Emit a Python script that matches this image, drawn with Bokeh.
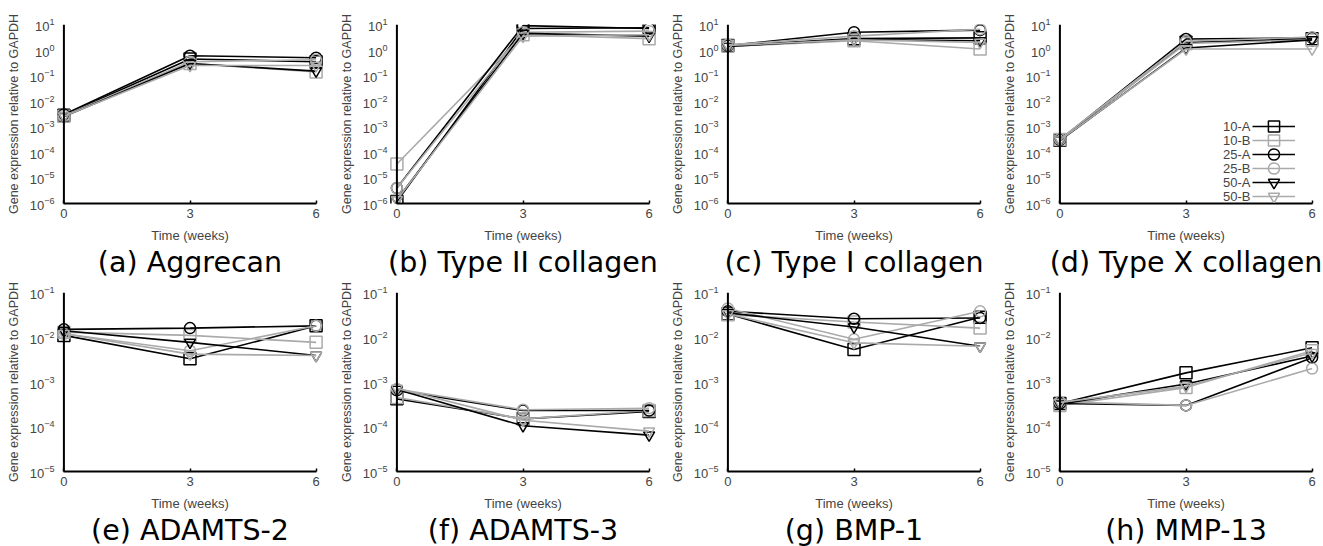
from bokeh.plotting import figure
from bokeh.layouts import row, column
from bokeh.models import Span, Legend, LegendItem, FixedTicker, Range1d
from bokeh.embed import file_html
from bokeh.resources import INLINE

weeks = [0, 3, 6]
groups = ["10-A", "10-B", "25-A", "25-B", "50-A", "50-B"]

aggrecan = {
    "10-A": [2.8e-3, 0.45, 0.35],
    "10-B": [2.6e-3, 0.30, 0.14],
    "25-A": [3.0e-3, 0.60, 0.50],
    "25-B": [2.7e-3, 0.35, 0.42],
    "50-A": [2.5e-3, 0.30, 0.15],
    "50-B": [2.6e-3, 0.25, 0.25],
}
col2 = {
    "10-A": [1.2e-6, 7.0, 7.5],
    "10-B": [3.5e-5, 4.0, 2.8],
    "25-A": [4.0e-6, 9.0, 7.0],
    "25-B": [4.0e-6, 5.0, 5.5],
    "50-A": [1.4e-6, 4.5, 3.5],
    "50-B": [1.4e-6, 3.5, 4.0],
}
col1 = {
    "10-A": [1.5, 2.8, 3.0],
    "10-B": [1.4, 2.3, 1.1],
    "25-A": [1.5, 5.0, 6.0],
    "25-B": [1.6, 3.5, 6.5],
    "50-A": [1.4, 2.6, 2.3],
    "50-B": [1.5, 2.5, 2.0],
}
col10 = {
    "10-A": [3.0e-4, 2.0, 2.8],
    "10-B": [3.2e-4, 1.8, 2.5],
    "25-A": [3.1e-4, 2.7, 3.0],
    "25-B": [3.3e-4, 2.2, 3.2],
    "50-A": [2.9e-4, 1.2, 2.5],
    "50-B": [3.0e-4, 1.1, 1.1],
}
adamts2 = {
    "10-A": [1.1e-2, 3.3e-3, 1.8e-2],
    "10-B": [1.3e-2, 1.1e-2, 7.7e-3],
    "25-A": [1.5e-2, 1.6e-2, 1.8e-2],
    "25-B": [1.2e-2, 5.0e-3, 1.8e-2],
    "50-A": [1.4e-2, 7.7e-3, 3.9e-3],
    "50-B": [1.2e-2, 4.2e-3, 3.9e-3],
}
adamts3 = {
    "10-A": [4.2e-4, 1.5e-4, 2.2e-4],
    "10-B": [4.5e-4, 1.5e-4, 2.3e-4],
    "25-A": [6.5e-4, 2.3e-4, 2.3e-4],
    "25-B": [7.0e-4, 2.4e-4, 2.6e-4],
    "50-A": [6.8e-4, 1.05e-4, 6.5e-5],
    "50-B": [7.2e-4, 1.4e-4, 8.0e-5],
}
bmp1 = {
    "10-A": [3.3e-2, 5.3e-3, 2.8e-2],
    "10-B": [3.2e-2, 2.2e-2, 1.6e-2],
    "25-A": [3.8e-2, 2.6e-2, 2.7e-2],
    "25-B": [4.4e-2, 9.0e-3, 3.8e-2],
    "50-A": [3.5e-2, 1.7e-2, 6.3e-3],
    "50-B": [3.3e-2, 7.5e-3, 6.3e-3],
}
mmp13 = {
    "10-A": [3.3e-4, 1.6e-3, 5.8e-3],
    "10-B": [3.0e-4, 7.5e-4, 5.0e-3],
    "25-A": [3.3e-4, 3.0e-4, 3.5e-3],
    "25-B": [3.6e-4, 3.0e-4, 2.0e-3],
    "50-A": [3.2e-4, 9.0e-4, 3.8e-3],
    "50-B": [3.5e-4, 8.0e-4, 4.5e-3],
}

titles_top = ["(a) Aggrecan", "(b) Type II collagen", "(c) Type I collagen", "(d) Type X collagen"]
titles_bottom = ["(e) ADAMTS-2", "(f) ADAMTS-3", "(g) BMP-1", "(h) MMP-13"]
data_top = [aggrecan, col2, col1, col10]
data_bottom = [adamts2, adamts3, bmp1, mmp13]
range_top = (1e-6, 1e1)
range_bottom = (1e-5, 1e-1)

COLORS = {"A": "#000000", "B": "#aaaaaa"}
MARKERS = {"10": ("square", 12), "25": ("circle", 11), "50": ("inverted_triangle", 11)}

WIDTHS = [333, 331, 332, 327]
LEFT = 55
FRAME_W = 269
FRAME_H = 179
PAD = 0.2
FONT = "Liberation Sans"


def legend_box(items, x, y, glyph_w, standoff):
    return Legend(items=items, location=(x, y), orientation="vertical",
                  glyph_width=glyph_w, glyph_height=28, label_height=28, spacing=0,
                  padding=0, margin=0, background_fill_alpha=0, border_line_color=None,
                  label_text_font=FONT, label_text_font_size="13px",
                  label_standoff=standoff)


def make_panel(title, data, yr, width, top, bottom, legend=False):
    p = figure(width=width, height=top + FRAME_H + bottom,
               x_range=Range1d(-PAD, 6 + PAD), y_range=Range1d(*yr),
               y_axis_type="log", output_backend="svg", toolbar_location=None,
               title=title, title_location="below",
               min_border_left=LEFT, min_border_right=width - LEFT - FRAME_W,
               min_border_top=top, min_border_bottom=bottom)
    p.outline_line_color = None
    p.grid.visible = False
    p.background_fill_color = "white"
    p.border_fill_color = "white"

    t = p.title
    t.text_font = "DejaVu Sans"
    t.text_font_size = "28.5px"
    t.text_font_style = "normal"
    t.text_color = "black"
    t.align = "center"
    t.standoff = -4

    xa = p.xaxis[0]
    xa.ticker = FixedTicker(ticks=weeks)
    xa.bounds = (0, 6)
    xa.axis_line_width = 2
    xa.axis_line_color = "black"
    xa.major_tick_in = 3
    xa.major_tick_out = 0
    xa.major_tick_line_width = 1.5
    xa.minor_tick_line_color = None
    xa.major_label_text_font = FONT
    xa.major_label_text_font_size = "13px"
    xa.major_label_standoff = 5
    xa.axis_label = "Time (weeks)"
    xa.axis_label_text_font = FONT
    xa.axis_label_text_font_size = "13px"
    xa.axis_label_text_font_style = "normal"
    xa.axis_label_standoff = 7

    ya = p.yaxis[0]
    ya.ticker.desired_num_ticks = 10
    ya.ticker.num_minor_ticks = 0
    ya.axis_line_color = None
    ya.major_tick_in = 0
    ya.major_tick_out = 0
    ya.minor_tick_line_color = None
    ya.major_label_text_font = FONT
    ya.major_label_text_font_size = "13px"
    ya.major_label_standoff = 1
    ya.axis_label = "Gene expression relative to GAPDH"
    ya.axis_label_text_font = FONT
    ya.axis_label_text_font_size = "12.5px"
    ya.axis_label_text_font_style = "normal"
    ya.axis_label_standoff = 6

    p.add_layout(Span(location=0, dimension="height", line_color="black", line_width=2))

    rends = {}
    for g in groups:
        conc, kind = g.split("-")
        color = COLORS[kind]
        marker, size = MARKERS[conc]
        lr = p.line(weeks, data[g], line_color=color, line_width=1.6)
        sr = p.scatter(weeks, data[g], marker=marker, size=size, line_color=color,
                       line_width=1.5, fill_color=None)
        rends[g] = [lr, sr]

    if legend:
        a_groups = [g for g in groups if g.endswith("A")]
        b_groups = [g for g in groups if g.endswith("B")]
        # text column (labels only, to the left of the symbols)
        p.add_layout(legend_box([LegendItem(label=g, renderers=rends[g]) for g in a_groups],
                                172, 7, 0, 0))
        p.add_layout(legend_box([LegendItem(label=g, renderers=rends[g]) for g in b_groups],
                                172, -7, 0, 0))
        # symbol column
        p.add_layout(legend_box([LegendItem(label=" ", renderers=rends[g]) for g in a_groups],
                                201, 7, 43, 0))
        p.add_layout(legend_box([LegendItem(label=" ", renderers=rends[g]) for g in b_groups],
                                201, -7, 43, 0))
    return p


top_row = [make_panel(titles_top[i], data_top[i], range_top, WIDTHS[i], 24, 75, legend=(i == 3))
           for i in range(4)]
bottom_row = [make_panel(titles_bottom[i], data_bottom[i], range_bottom, WIDTHS[i], 14, 75)
              for i in range(4)]

layout = column(row(*top_row), row(*bottom_row))
open("out.html", "w").write(file_html(layout, INLINE))
